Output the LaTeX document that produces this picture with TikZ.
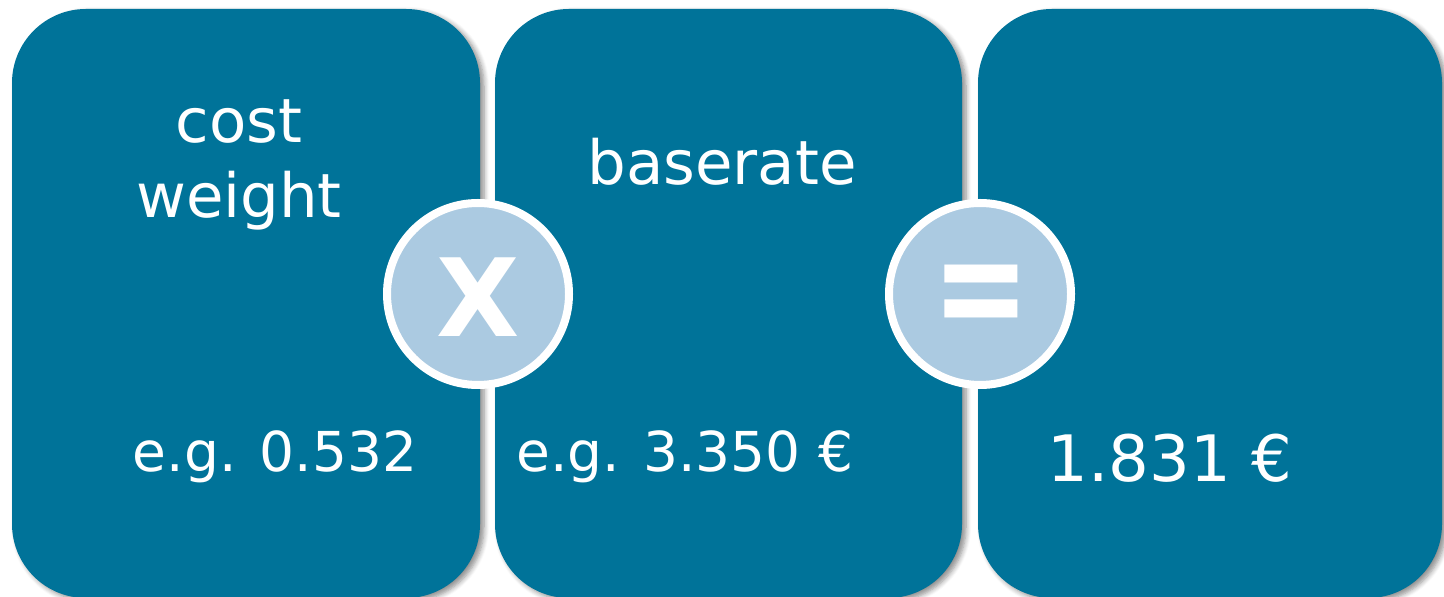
\documentclass[tikz,border=0pt]{standalone}
\usepackage{fontspec}
\setmainfont{DejaVu Sans}
\usetikzlibrary{shadows.blur}
\definecolor{teal}{HTML}{007399}
\definecolor{opfill}{HTML}{ABCAE1}
\begin{document}
\begin{tikzpicture}[x=0.5pt,y=-0.5pt,
  box/.style={draw=none,fill=teal,rounded corners=37pt,minimum height=294.5pt,
    inner sep=0pt,
    blur shadow={shadow xshift=2pt,shadow yshift=-1.5pt,shadow blur radius=2.5pt,
      shadow blur steps=6,shadow opacity=45}},
  title/.style={text=white,anchor=base,inner sep=0pt,font=\fontsize{30.5}{36}\selectfont},
  example/.style={text=white,anchor=base,inner sep=0pt,font=\fontsize{27.5}{33}\selectfont},
  result/.style={text=white,anchor=base,inner sep=0pt,font=\fontsize{32}{38}\selectfont},
  opcircle/.style={circle,fill=opfill,draw=white,line width=4pt,minimum size=91pt,inner sep=0pt},
  opsign/.style={text=white,inner sep=0pt,font=\bfseries\fontsize{54}{60}\selectfont}
]
\useasboundingbox (0,0) rectangle (1444,597);
\begin{scope}
\clip (0,0) rectangle (1444,597);
% three panels
\node[box,minimum width=234pt] (b1) at (246,303.5) {};
\node[box,minimum width=233.5pt] (b2) at (728.5,303.5) {};
\node[box,minimum width=232pt] (b3) at (1210,303.5) {};
\end{scope}

% panel texts
\node[title] (t1) at (239,143) {cost};
\node[title] (t2) at (239,218) {weight};
\node[title] (t3) at (722,185) {baserate};
\node[example] (e1) at (275,472) {e.g. 0.532};
\node[example] (e2) at (685,472) {e.g. 3.350 €};
\node[result] (r1) at (1170,482) {1.831 €};

% operator circles with their signs
\node[opcircle] (c1) at (478,294) {};
\node[opcircle] (c2) at (980,294) {};
\node[opsign] (x) at (478,297) {X};
\node[opsign] (eq) at (981,303) {\scalebox{1.08}[1.45]{=}};
\end{tikzpicture}
\end{document}
